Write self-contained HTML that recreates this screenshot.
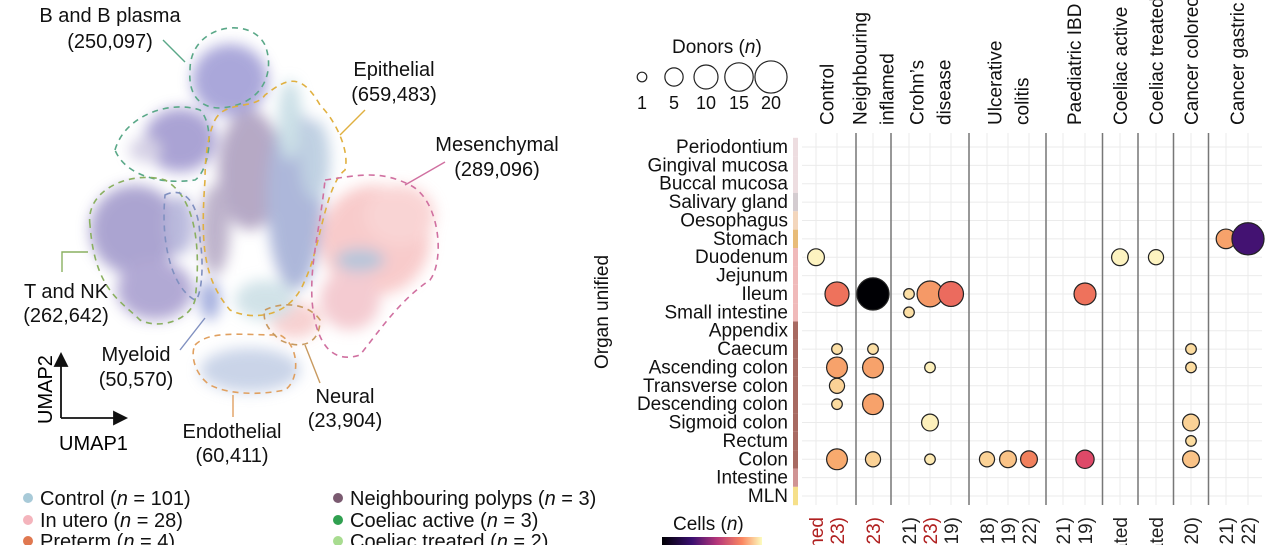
<!DOCTYPE html>
<html><head><meta charset="utf-8">
<style>
html,body{margin:0;padding:0;background:#fff;width:1280px;height:545px;overflow:hidden;}
svg{display:block;font-family:"Liberation Sans",Arial,sans-serif;overflow:hidden;}
</style></head>
<body>
<svg id="fig" width="1280" height="545" viewBox="0 0 1280 545">
<defs>
<filter id="blur" x="-30%" y="-30%" width="160%" height="160%"><feGaussianBlur stdDeviation="7"/></filter>
<linearGradient id="magma" x1="0" x2="1"><stop offset="0" stop-color="#000004"/><stop offset="0.3" stop-color="#3b0f70"/><stop offset="0.55" stop-color="#b5367a"/><stop offset="0.8" stop-color="#fb8761"/><stop offset="1" stop-color="#fcfdbf"/></linearGradient>
</defs>

<g>
 <g filter="url(#blur)" opacity="0.72">
  <ellipse cx="230" cy="80" rx="38" ry="36" fill="#8a86cc"/>
  <ellipse cx="180" cy="140" rx="36" ry="32" fill="#8a80c4"/>
  <ellipse cx="145" cy="150" rx="16" ry="12" fill="#c6c0dc"/>
  <ellipse cx="250" cy="170" rx="32" ry="60" fill="#9a88b0"/>
  <ellipse cx="295" cy="200" rx="28" ry="90" fill="#8e9ccc"/>
  <ellipse cx="290" cy="120" rx="12" ry="40" fill="#b8d4de"/>
  <ellipse cx="315" cy="160" rx="15" ry="40" fill="#a8c0d8"/>
  <ellipse cx="215" cy="230" rx="15" ry="45" fill="#a596b8"/>
  <ellipse cx="135" cy="230" rx="45" ry="45" fill="#8c82c0"/>
  <ellipse cx="155" cy="290" rx="38" ry="30" fill="#9488c4"/>
  <ellipse cx="180" cy="225" rx="14" ry="30" fill="#a0a0d0"/>
  <ellipse cx="375" cy="240" rx="55" ry="55" fill="#f6b8b8"/>
  <ellipse cx="400" cy="215" rx="35" ry="30" fill="#f8c4c4"/>
  <ellipse cx="350" cy="300" rx="30" ry="30" fill="#f0b8c0"/>
  <ellipse cx="360" cy="260" rx="25" ry="12" fill="#9cb0cc"/>
  <ellipse cx="295" cy="320" rx="25" ry="18" fill="#f4c0c0"/>
  <ellipse cx="250" cy="370" rx="50" ry="22" fill="#b6c4e0"/>
  <ellipse cx="210" cy="300" rx="10" ry="20" fill="#7f8ed0"/>
  <ellipse cx="265" cy="300" rx="30" ry="20" fill="#c0d8e0"/>
 </g>
 <g fill="none" stroke-width="1.6" stroke-dasharray="6,5">
  <path d="M190,70 C190,25 250,15 265,45 C275,70 265,105 220,108 C200,108 188,95 190,70Z" stroke="#5aa888"/>
  <path d="M115,150 C125,115 170,100 200,110 C215,125 210,170 195,180 C160,185 125,175 115,150Z" stroke="#5aa888"/>
  <path d="M215,120 C225,100 255,110 265,95 C285,80 300,70 320,105 C335,120 350,150 345,170 C325,185 320,250 305,280 C290,320 250,320 230,310 C205,280 200,250 205,180 C205,150 210,130 215,120Z" stroke="#e0b040"/>
  <path d="M325,180 C360,175 380,170 410,185 C440,200 445,260 430,280 C400,300 380,330 360,355 C330,365 315,340 312,300 C310,260 320,230 325,180Z" stroke="#d070a0"/>
  <path d="M90,225 C85,190 130,170 165,180 C200,200 200,260 195,300 C190,320 160,330 140,320 C120,300 95,290 90,225Z" stroke="#8ab060"/>
  <path d="M165,195 C185,185 200,205 200,240 C205,270 200,300 195,300 C175,290 160,250 165,195Z" stroke="#8090c0"/>
  <path d="M195,345 C210,330 240,335 280,335 C300,345 300,380 285,390 C260,395 230,395 210,385 C195,375 190,355 195,345Z" stroke="#e0a060"/>
  <path d="M265,310 C285,300 310,305 320,320 C320,345 300,350 280,340 C268,330 262,320 265,310Z" stroke="#c89a60"/>
 </g>
 <g stroke-width="1.4" fill="none">
  <line x1="163" y1="40" x2="185" y2="62" stroke="#5aa888"/>
  <line x1="340" y1="135" x2="365" y2="110" stroke="#e0b040"/>
  <line x1="405" y1="185" x2="445" y2="162" stroke="#d070a0"/>
  <polyline points="62,272 62,252 88,252" stroke="#8ab060"/>
  <line x1="180" y1="350" x2="205" y2="318" stroke="#8090c0"/>
  <line x1="233" y1="395" x2="233" y2="417" stroke="#e0a060"/>
  <line x1="305" y1="345" x2="320" y2="383" stroke="#c89a60"/>
 </g>
 <g font-size="20" fill="#111" text-anchor="middle">
  <text x="110" y="22">B and B plasma</text>
  <text x="110" y="48">(250,097)</text>
  <text x="394" y="76">Epithelial</text>
  <text x="394" y="101">(659,483)</text>
  <text x="497" y="151">Mesenchymal</text>
  <text x="497" y="176">(289,096)</text>
  <text x="66" y="298">T and NK</text>
  <text x="66" y="322">(262,642)</text>
  <text x="136" y="361">Myeloid</text>
  <text x="136" y="386">(50,570)</text>
  <text x="232" y="438">Endothelial</text>
  <text x="232" y="462">(60,411)</text>
  <text x="345" y="403">Neural</text>
  <text x="345" y="427">(23,904)</text>
 </g>
 <g stroke="#111" stroke-width="1.8" fill="#111">
  <line x1="61" y1="418" x2="61" y2="362"/><polygon points="55,366 61,354 67,366"/>
  <line x1="61" y1="418" x2="118" y2="418"/><polygon points="114,412 126,418 114,424"/>
 </g>
 <text x="0" y="0" font-size="20" transform="translate(52,424) rotate(-90)">UMAP2</text>
 <text x="59" y="450" font-size="20">UMAP1</text>
</g>

<g font-size="20" fill="#111">
 <circle cx="28" cy="498" r="5" fill="#a8cad8"/><text x="40" y="505">Control (<tspan font-style="italic">n</tspan> = 101)</text>
 <circle cx="28" cy="520" r="5" fill="#f4b4bc"/><text x="40" y="527">In utero (<tspan font-style="italic">n</tspan> = 28)</text>
 <circle cx="28" cy="541" r="5" fill="#e07850"/><text x="40" y="548">Preterm (<tspan font-style="italic">n</tspan> = 4)</text>
 <circle cx="338" cy="498" r="5" fill="#7a5a70"/><text x="350" y="505">Neighbouring polyps (<tspan font-style="italic">n</tspan> = 3)</text>
 <circle cx="338" cy="520" r="5" fill="#30a050"/><text x="350" y="527">Coeliac active (<tspan font-style="italic">n</tspan> = 3)</text>
 <circle cx="338" cy="541" r="5" fill="#a8dc90"/><text x="350" y="548">Coeliac treated (<tspan font-style="italic">n</tspan> = 2)</text>
</g>

<g font-size="19" fill="#111">
 <text x="672" y="53">Donors (<tspan font-style="italic">n</tspan>)</text>
 <g id="donorsLegend"></g>
</g>
<g>
 <text x="673" y="530" font-size="19" fill="#111">Cells (<tspan font-style="italic">n</tspan>)</text>
 <rect x="662" y="537" width="100" height="8" fill="url(#magma)"/>
</g>

<text x="0" y="0" font-size="19" fill="#111" text-anchor="middle" transform="translate(608,312) rotate(-90)">Organ unified</text>

<g id="dotplot"></g>
</svg>

<script>
const rows = ["Periodontium","Gingival mucosa","Buccal mucosa","Salivary gland","Oesophagus","Stomach","Duodenum","Jejunum","Ileum","Small intestine","Appendix","Caecum","Ascending colon","Transverse colon","Descending colon","Sigmoid colon","Rectum","Colon","Intestine","MLN"];
const rowColors = ["#eddde0","#eddde0","#eddde0","#d4ccd0","#f3d6bc","#e8bc78","#f0baba","#f0baba","#f0baba","#f0baba","#a86a62","#a86a62","#a86a62","#a86a62","#a86a62","#a86a62","#a86a62","#a86a62","#d09494","#f6e08a"];
const columns = ["c0","c1","c2","c3","c4","c5","c6","c7","c8","c9","c10","c11","c12","c13","c14","c15"];
const colGroup = [0,0,1,2,2,2,3,3,3,4,4,5,6,7,8,8];
const groupHeaders = [["Control"],["Neighbouring","inflamed"],["Crohn’s","disease"],["Ulcerative","colitis"],["Paediatric IBD"],["Coeliac active"],["Coeliac treated"],["Cancer colorectal"],["Cancer gastric"]];
const bottomLabels = ["Inflamed","Study (2023)","Study (2023)","Study (2021)","Study (2023)","Study (2019)","Study (2018)","Study (2019)","Study (2022)","Study (2021)","Study (2019)","Untreated","Treated","Study (2020)","Study (2021)","Study (2022)"];
const bottomRed = [1,1,1,0,1,0,0,0,0,0,0,0,0,0,0,0];
const dotCol =   [0,11,12,14,15, 1, 2, 3, 4, 5,10, 3, 1, 2,13, 1, 2, 4,13, 1, 1, 2, 4,13,13, 1, 2, 4, 6, 7, 8,10,13];
const dotRow =   [6, 6, 6, 5, 5, 8, 8, 8, 8, 8, 8, 9,11,11,11,12,12,12,12,13,14,14,15,15,16,17,17,17,17,17,17,17,17];
const dotDonors= [4, 4, 3, 6,20,10,20, 1,12,11, 8, 1, 1, 1, 1, 7, 7, 1, 1, 3, 1, 7, 4, 4, 1, 7, 3, 1, 3, 4, 4, 5, 4];
const dotCells = [0.99,0.99,0.99,0.8,0.22,0.68,0.0,0.93,0.78,0.66,0.68,0.93,0.93,0.93,0.92,0.8,0.8,0.98,0.92,0.9,0.92,0.8,0.98,0.9,0.92,0.82,0.9,0.96,0.9,0.87,0.72,0.55,0.87];
const donorTicks = [1,5,10,15,20];

const NS="http://www.w3.org/2000/svg";
function mk(tag,attrs,parent){const e=document.createElementNS(NS,tag);for(const k in attrs)e.setAttribute(k,attrs[k]);parent.appendChild(e);return e;}
const colX=[816,837,873,909,930,951,987,1008,1029,1063,1085,1120,1156,1191,1226,1248];
function xScale(i){return colX[i];}
function yScale(i){return 147+i*18.37;}
function rScale(n){return 2.2+Math.sqrt(n)*3.1;}
function magma(t){
  const s=[[0,[0,0,4]],[0.2,[59,15,112]],[0.4,[140,41,129]],[0.55,[222,73,104]],[0.7,[240,120,90]],[0.82,[248,170,110]],[0.92,[252,220,160]],[1,[253,246,196]]];
  for(let i=0;i<s.length-1;i++){if(t<=s[i+1][0]){const a=s[i],b=s[i+1],f=(t-a[0])/(b[0]-a[0]);return "rgb("+a[1].map((v,j)=>Math.round(v+(b[1][j]-v)*f)).join(",")+")";}}
  return "rgb(253,246,196)";
}
const gDot=document.getElementById("dotplot");
const plotTop=133,plotBot=505,plotLeft=802,plotRight=1262;
rows.forEach((r,i)=>{
  const l=mk("line",{x1:plotLeft,x2:plotRight,y1:yScale(i),y2:yScale(i),stroke:"#ebebeb","stroke-width":1},gDot);
  
  
});
columns.forEach((c,i)=>{
  const l=mk("line",{x1:xScale(i),x2:xScale(i),y1:plotTop,y2:plotBot,stroke:"#ebebeb","stroke-width":1},gDot);
  
  
});
for(let i=1;i<columns.length;i++){
  if(colGroup[i]!==colGroup[i-1]){
    const x=(xScale(i)+xScale(i-1))/2 + (i===2?1:0);
    const l=mk("line",{x1:x,x2:x,y1:plotTop,y2:plotBot,stroke:"#777","stroke-width":1.5},gDot);
    
    
  }
}
rows.forEach((r,i)=>{
  const t=mk("text",{x:788,y:yScale(i)+6,"font-size":19,"text-anchor":"end",fill:"#111"},gDot);
  t.textContent=r;
  
  
  const s=mk("rect",{x:793,y:yScale(i)-9.2,width:5,height:18.4,fill:rowColors[i]},gDot);
  
  
});
groupHeaders.forEach((lines,gi)=>{
  const idx=colGroup.map((v,i)=>v===gi?i:-1).filter(v=>v>=0);
  const cx=(xScale(idx[0])+xScale(idx[idx.length-1]))/2;
  const n=lines.length;
  lines.forEach((ln,k)=>{
    const x=cx+7+(k-(n-1)/2)*27;
    const t=mk("text",{x:0,y:0,"font-size":19,fill:"#111",transform:"translate("+x+",125) rotate(-90)"},gDot);
    t.textContent=ln;
    
    
  });
});
bottomLabels.forEach((b,i)=>{
  const t=mk("text",{x:0,y:0,"font-size":19,"text-anchor":"end",fill:bottomRed[i]?"#b02020":"#222",transform:"translate("+(xScale(i)+7)+",517) rotate(-90)"},gDot);
  t.textContent=b;
  
  
});
dotCol.forEach((c,i)=>{
  const d=mk("circle",{cx:xScale(c),cy:yScale(dotRow[i]),r:rScale(dotDonors[i]),fill:magma(dotCells[i]),stroke:"#222","stroke-width":1.2},gDot);
  
  
});
const dl=document.getElementById("donorsLegend");
const legX=[642,674,706,739,771];
donorTicks.forEach((n,i)=>{
  const c=mk("circle",{cx:legX[i],cy:77,r:rScale(n)-(n===1?0.5:0),fill:"none",stroke:"#222","stroke-width":1.2},dl);
  
  
  const t=mk("text",{x:legX[i],y:109,"text-anchor":"middle","font-size":18,fill:"#111"},dl);
  t.textContent=n;
  
  
});
</script>
</body></html>
